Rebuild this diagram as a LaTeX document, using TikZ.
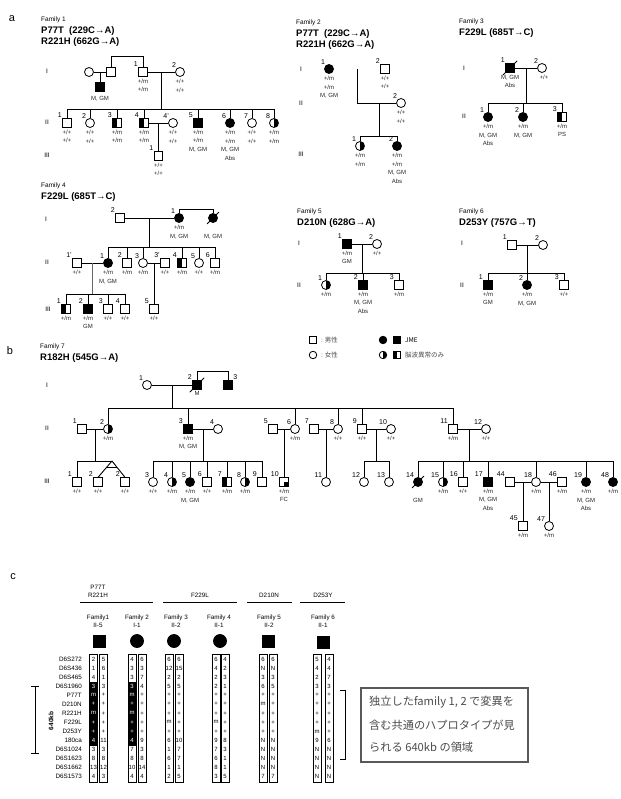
\documentclass[tikz,border=0pt]{standalone}
\usepackage{fontspec}
\setmainfont{Liberation Sans}
\newfontfamily\jpfont{Noto Sans CJK JP}
\usepackage{tikz}
\usetikzlibrary{positioning,calc}

\begin{document}
\begin{tikzpicture}[x=1pt,y=-1pt,node distance=2pt]
  \tikzstyle{male}=[draw,rectangle,minimum size=8.5pt,inner sep=0pt,line width=0.8pt,fill=white]
  \tikzstyle{female}=[draw,circle,minimum size=9pt,inner sep=0pt,line width=0.8pt,fill=white]
  \tikzstyle{aff}=[fill=black]
  \tikzstyle{halfc}=[path picture={\fill[black] (path picture bounding box.south) rectangle (path picture bounding box.north east);}]
  \tikzstyle{halfs}=[path picture={\fill[black] (path picture bounding box.south west) rectangle (path picture bounding box.north);}]
  \tikzstyle{fcq}=[path picture={\fill[black] (path picture bounding box.center) rectangle (path picture bounding box.south east);}]
  \tikzstyle{num}=[font=\fontsize{7}{7}\selectfont,inner sep=0.4pt]
  \tikzstyle{gt}=[font=\fontsize{6}{8.6}\selectfont,align=center,inner sep=0pt,text=black!85]
  \tikzstyle{gen}=[font=\fontsize{6.5}{7}\selectfont,inner sep=0pt]
  \tikzstyle{fam}=[anchor=west,inner sep=0pt,font=\fontsize{6.5}{7}\selectfont]
  \tikzstyle{mut}=[anchor=west,inner sep=0pt,font=\fontsize{9.5}{10}\selectfont\bfseries]
  \tikzstyle{sec}=[font=\fontsize{11}{11}\selectfont,inner sep=0pt]
  \tikzstyle{pline}=[line width=0.9pt]
  \tikzstyle{slash}=[line width=0.8pt]
  \tikzstyle{hap}=[font=\fontsize{6}{6}\selectfont,inner sep=0pt]
  \tikzstyle{mk}=[anchor=east,inner sep=0pt,font=\fontsize{6.3}{6}\selectfont]
  \tikzstyle{hdr}=[font=\fontsize{6.3}{7.8}\selectfont,align=center,inner sep=0pt]
  \tikzstyle{jp}=[anchor=west,inner sep=0pt,font=\jpfont\fontsize{6.5}{7}\selectfont]
  \tikzstyle{note}=[anchor=west,inner sep=0pt,text=black!70,font=\jpfont\fontsize{11.2}{11}\selectfont]

  \fill[white] (0,0) rectangle (620,799);
  \useasboundingbox (0,0) rectangle (620,799);

  % a: family 1
  \node[sec] (la) at (12,19) {a};
  \node[fam] (f1n) at (41,20) {Family 1};
  \node[mut] (f1u1) at (41,31) {P77T\ \ (229C→A)};
  \node[mut] (f1u2) at (41,42) {R221H (662G→A)};
  \node[gen] (f1g1) at (47,71) {I};
  \node[gen] (f1g2) at (47,122) {II};
  \node[gen] (f1g3) at (47,155) {III};
  \node[female] (f1a) at (89,72) {};
  \node[male] (f1b) at (111,72) {};
  \node[male,aff] (f1c) at (100,87) {};
  \node[gt,below=4pt of f1c] (f1ct) {M, GM};
  \node[male,label={[num]135:1}] (f1I1) at (143,72) {};
  \node[gt,below=of f1I1] (f1I1t) {+/m\\+/m};
  \node[female,label={[num]135:2}] (f1I2) at (180,72) {};
  \node[gt,below=of f1I2] (f1I2t) {+/+\\+/+};
  \node[male,label={[num]135:1}] (f1II1) at (67,123) {};
  \node[gt,below=of f1II1] (f1II1t) {+/+\\+/+};
  \node[female,label={[num]135:2}] (f1II2) at (90,123) {};
  \node[gt,below=of f1II2] (f1II2t) {+/+\\+/+};
  \node[male,halfs,label={[num]135:3}] (f1II3) at (117,123) {};
  \node[gt,below=of f1II3] (f1II3t) {+/m\\+/m};
  \node[male,halfs,label={[num]135:4}] (f1II4) at (144,123) {};
  \node[gt,below=of f1II4] (f1II4t) {+/m\\+/m};
  \node[female,label={[num]135:4'}] (f1II4p) at (173,123) {};
  \node[gt,below=of f1II4p] (f1II4pt) {+/+\\+/+};
  \node[male,aff,label={[num]135:5}] (f1II5) at (198,123) {};
  \node[gt,below=of f1II5] (f1II5t) {+/m\\+/m\\M, GM};
  \node[female,aff,label={[num]135:6}] (f1II6) at (230,123) {};
  \node[gt,below=of f1II6] (f1II6t) {+/m\\+/m\\M, GM\\Abs};
  \node[female,label={[num]135:7}] (f1II7) at (252,123) {};
  \node[gt,below=of f1II7] (f1II7t) {+/+\\+/+};
  \node[female,halfc,label={[num]135:8}] (f1II8) at (274,123) {};
  \node[gt,below=of f1II8] (f1II8t) {+/m\\+/m};
  \node[male,label={[num]135:1}] (f1III1) at (158.5,156) {};
  \node[gt,below=of f1III1] (f1III1t) {+/+\\+/+};
  \coordinate (f1t) at (0,56);
  \coordinate (f1s) at (0,109);
  \coordinate (f1ab) at ($(f1a)!0.5!(f1b)$);
  \coordinate (f1mI) at ($(f1I1)!0.5!(f1I2)$);
  \coordinate (f1mII) at ($(f1II4)!0.5!(f1II4p)$);
  \draw[pline] (f1a) -- (f1b);
  \draw[pline] (f1ab) -- (f1c);
  \draw[pline] (f1b.north) -- (f1b.north |- f1t) -- (f1I1.north |- f1t) -- (f1I1.north);
  \draw[pline] (f1I1) -- (f1I2);
  \draw[pline] (f1mI) -- (f1mI |- f1s);
  \draw[pline] (f1II1.north |- f1s) -- (f1II8.north |- f1s);
  \foreach \n in {f1II1,f1II2,f1II3,f1II4,f1II5,f1II6,f1II7,f1II8}
    \draw[pline] (\n) -- (\n |- f1s);
  \draw[pline] (f1II4) -- (f1II4p);
  \draw[pline] (f1mII) -- (f1III1);

  % family 2
  \node[fam] (f2n) at (296,23) {Family 2};
  \node[mut] (f2u1) at (296,34) {P77T\ \ (229C→A)};
  \node[mut] (f2u2) at (296,45) {R221H (662G→A)};
  \node[gen] (f2g1) at (301,69) {I};
  \node[gen] (f2g2) at (301,103) {II};
  \node[gen] (f2g3) at (301,154) {III};
  \node[female,aff,label={[num]135:1}] (f2I1) at (329,69) {};
  \node[gt,below=of f2I1] (f2I1t) {+/m\\+/m\\M, GM};
  \node[male,label={[num]135:2}] (f2I2) at (385,69) {};
  \node[gt,below=of f2I2] (f2I2t) {+/+\\+/+};
  \node[female,label={[num]135:2}] (f2II2) at (401,103) {};
  \node[gt,below=of f2II2] (f2II2t) {+/+\\+/+};
  \node[female,halfc,label={[num]135:1}] (f2III1) at (360,146) {};
  \node[gt,below=of f2III1] (f2III1t) {+/m\\+/m};
  \node[female,aff,label={[num]135:2}] (f2III2) at (397,146) {};
  \node[gt,below=of f2III2] (f2III2t) {+/m\\+/m\\M, GM\\Abs};
  \coordinate (f2mI) at ($(f2I1)!0.5!(f2I2)$);
  \coordinate (f2j) at (f2mI |- f2II2);
  \coordinate (f2mII) at ($(f2j)!0.5!(f2II2)$);
  \coordinate (f2s) at (0,136);
  \draw[line width=0.7pt,double,double distance=1.3pt] (f2I1) -- (f2I2);
  \draw[pline] (f2mI) -- (f2j) -- (f2II2);
  \draw[pline] (f2mII) -- (f2mII |- f2s);
  \draw[pline] (f2III1.north |- f2s) -- (f2III2.north |- f2s);
  \draw[pline] (f2III1) -- (f2III1 |- f2s);
  \draw[pline] (f2III2) -- (f2III2 |- f2s);

  % family 3
  \node[fam] (f3n) at (459,22) {Family 3};
  \node[mut] (f3u1) at (459,33) {F229L (685T→C)};
  \node[gen] (f3g1) at (464,68) {I};
  \node[gen] (f3g2) at (464,116) {II};
  \node[male,aff,label={[num]135:1}] (f3I1) at (510,68) {};
  \node[gt,below=of f3I1] (f3I1t) {M, GM\\Abs};
  \node[female,label={[num]135:2}] (f3I2) at (542,68) {};
  \node[gt,below=of f3I2,xshift=2pt] (f3I2t) {+/+};
  \node[female,aff,label={[num]135:1}] (f3II1) at (488,117) {};
  \node[gt,below=of f3II1] (f3II1t) {+/m\\M, GM\\Abs};
  \node[female,aff,label={[num]135:2}] (f3II2) at (523,117) {};
  \node[gt,below=of f3II2] (f3II2t) {+/m\\M, GM};
  \node[male,halfs,label={[num]135:3}] (f3II3) at (562,117) {};
  \node[gt,below=of f3II3] (f3II3t) {+/m\\PS};
  \coordinate (f3mI) at ($(f3I1)!0.5!(f3I2)$);
  \coordinate (f3s) at (0,103);
  \draw[slash] ([shift={(-2.5pt,-2.5pt)}]f3I1.south west) -- ([shift={(2.5pt,2.5pt)}]f3I1.north east);
  \draw[pline] (f3I1) -- (f3I2);
  \draw[pline] (f3mI) -- (f3mI |- f3s);
  \draw[pline] (f3II1.north |- f3s) -- (f3II3.north |- f3s);
  \foreach \n in {f3II1,f3II2,f3II3}
    \draw[pline] (\n) -- (\n |- f3s);

  % family 4
  \node[fam] (f4n) at (41,186) {Family 4};
  \node[mut] (f4u1) at (41,197) {F229L (685T→C)};
  \node[gen] (f4g1) at (46,219) {I};
  \node[gen] (f4g2) at (47,262) {II};
  \node[gen] (f4g3) at (48,309) {III};
  \node[male,label={[num]135:2}] (f4I2) at (120,218) {};
  \node[female,aff,label={[num]135:1}] (f4I1) at (179,218) {};
  \node[gt,below=of f4I1] (f4I1t) {+/m\\M, GM};
  \node[female,aff] (f4I3) at (213,218) {};
  \node[gt,below=11pt of f4I3] (f4I3t) {M, GM};
  \node[male,label={[num]135:1'}] (f4II1p) at (77,263) {};
  \node[gt,below=of f4II1p] (f4II1pt) {+/+};
  \node[female,aff,label={[num]135:1}] (f4II1) at (108,263) {};
  \node[gt,below=of f4II1] (f4II1t) {+/m\\M, GM};
  \node[male,label={[num]135:2}] (f4II2) at (127,263) {};
  \node[gt,below=of f4II2] (f4II2t) {+/m};
  \node[female,label={[num]135:3}] (f4II3) at (143,263) {};
  \node[gt,below=of f4II3] (f4II3t) {+/m};
  \node[male,label={[num]135:3'}] (f4II3p) at (165,263) {};
  \node[gt,below=of f4II3p] (f4II3pt) {+/+};
  \node[male,halfs,label={[num]135:4}] (f4II4) at (182,263) {};
  \node[gt,below=of f4II4] (f4II4t) {+/m};
  \node[female,label={[num]135:5}] (f4II5) at (199,263) {};
  \node[gt,below=of f4II5] (f4II5t) {+/+};
  \node[male,label={[num]135:6}] (f4II6) at (215,263) {};
  \node[gt,below=of f4II6] (f4II6t) {+/m};
  \node[male,halfs,label={[num]135:1}] (f4III1) at (66,309) {};
  \node[gt,below=of f4III1] (f4III1t) {+/m};
  \node[male,aff,label={[num]135:2}] (f4III2) at (88,309) {};
  \node[gt,below=of f4III2] (f4III2t) {+/m\\GM};
  \node[male,label={[num]135:3}] (f4III3) at (108,309) {};
  \node[gt,below=of f4III3] (f4III3t) {+/+};
  \node[male,label={[num]135:4}] (f4III4) at (125,309) {};
  \node[gt,below=of f4III4] (f4III4t) {+/+};
  \node[male,label={[num]135:5}] (f4III5) at (154,309) {};
  \node[gt,below=of f4III5] (f4III5t) {+/+};
  \coordinate (f4t) at (0,209);
  \coordinate (f4s) at (0,247);
  \coordinate (f4s3) at (0,294);
  \coordinate (f4mI) at ($(f4I2)!0.5!(f4I1)$);
  \coordinate (f4m1) at ($(f4II1p)!0.5!(f4II1)$);
  \coordinate (f4m3) at ($(f4II3)!0.5!(f4II3p)$);
  \draw[slash] ([shift={(-2.5pt,-2.5pt)}]f4I3.south west) -- ([shift={(2.5pt,2.5pt)}]f4I3.north east);
  \draw[pline] (f4I1.north) -- (f4I1.north |- f4t) -- (f4I3.north |- f4t) -- (f4I3.north);
  \draw[pline] (f4I2) -- (f4I1);
  \draw[pline] (f4mI) -- (f4mI |- f4s);
  \draw[pline] (f4II1.north |- f4s) -- (f4II6.north |- f4s);
  \foreach \n in {f4II1,f4II2,f4II3,f4II4,f4II5,f4II6}
    \draw[pline] (\n) -- (\n |- f4s);
  \draw[pline] (f4II1p) -- (f4II1);
  \draw[pline] (f4II3) -- (f4II3p);
  \draw[pline,black!60] (f4m1) -- (f4m1 |- f4s3);
  \draw[pline] (f4III1.north |- f4s3) -- (f4III4.north |- f4s3);
  \foreach \n in {f4III1,f4III2,f4III3,f4III4}
    \draw[pline] (\n) -- (\n |- f4s3);
  \draw[pline] (f4m3) -- (f4III5);

  % family 5
  \node[fam] (f5n) at (297,212) {Family 5};
  \node[mut] (f5u1) at (297,223) {D210N (628G→A)};
  \node[gen] (f5g1) at (299,243) {I};
  \node[gen] (f5g2) at (299,285) {II};
  \node[male,aff,label={[num]135:1}] (f5I1) at (347,244) {};
  \node[gt,below=of f5I1] (f5I1t) {+/m\\GM};
  \node[female,label={[num]135:2}] (f5I2) at (377,244) {};
  \node[gt,below=of f5I2] (f5I2t) {+/+};
  \node[female,halfc,label={[num]135:1}] (f5II1) at (326,285) {};
  \node[gt,below=of f5II1] (f5II1t) {+/m};
  \node[male,aff,label={[num]135:2}] (f5II2) at (363,285) {};
  \node[gt,below=of f5II2] (f5II2t) {+/m\\M, GM\\Abs};
  \node[male,label={[num]135:3}] (f5II3) at (399,285) {};
  \node[gt,below=of f5II3] (f5II3t) {+/m};
  \coordinate (f5mI) at ($(f5I1)!0.5!(f5I2)$);
  \coordinate (f5s) at (0,273);
  \draw[pline] (f5I1) -- (f5I2);
  \draw[pline] (f5mI) -- (f5mI |- f5s);
  \draw[pline] (f5II1.north |- f5s) -- (f5II3.north |- f5s);
  \foreach \n in {f5II1,f5II2,f5II3}
    \draw[pline] (\n) -- (\n |- f5s);

  % family 6
  \node[fam] (f6n) at (459,212) {Family 6};
  \node[mut] (f6u1) at (459,223) {D253Y (757G→T)};
  \node[gen] (f6g1) at (462,243) {I};
  \node[gen] (f6g2) at (462,285) {II};
  \node[male,label={[num]135:1}] (f6I1) at (512,245) {};
  \node[female,label={[num]135:2}] (f6I2) at (543,245) {};
  \node[male,aff,label={[num]135:1}] (f6II1) at (488,285) {};
  \node[gt,below=of f6II1] (f6II1t) {+/m\\GM};
  \node[female,aff,label={[num]135:2}] (f6II2) at (527,285) {};
  \node[gt,below=of f6II2] (f6II2t) {+/m\\M, GM};
  \node[male,label={[num]135:3}] (f6II3) at (564,285) {};
  \node[gt,below=of f6II3] (f6II3t) {+/+};
  \coordinate (f6mI) at ($(f6I1)!0.5!(f6I2)$);
  \coordinate (f6s) at (0,273);
  \draw[pline] (f6I1) -- (f6I2);
  \draw[pline] (f6mI) -- (f6mI |- f6s);
  \draw[pline] (f6II1.north |- f6s) -- (f6II3.north |- f6s);
  \foreach \n in {f6II1,f6II2,f6II3}
    \draw[pline] (\n) -- (\n |- f6s);

  % legend
  \node[male,minimum size=7.5pt] (lgm) at (313,340) {};
  \node[jp,text=black!70] (lgmt) at (321,340) {: 男性};
  \node[female,minimum size=7.5pt] (lgf) at (313,355) {};
  \node[jp,text=black!70] (lgft) at (321,355) {: 女性};
  \node[female,aff,minimum size=7.5pt] (lga1) at (383,340) {};
  \node[male,aff,minimum size=7.5pt] (lga2) at (397,340) {};
  \node[jp] (lgat) at (405,340) {JME};
  \node[female,halfc,minimum size=7.5pt] (lgh1) at (383,355) {};
  \node[male,halfs,minimum size=7.5pt] (lgh2) at (397,355) {};
  \node[jp,text=black!70] (lght) at (405,355) {脳波異常のみ};

  % b: family 7
  \node[sec] (lb) at (10,351) {b};
  \node[fam] (f7n) at (40,347) {Family 7};
  \node[mut] (f7u1) at (40,358) {R182H (545G→A)};
  \node[gen] (f7g1) at (47,385) {I};
  \node[gen] (f7g2) at (47,428) {II};
  \node[gen] (f7g3) at (47,481) {III};
  \node[female,label={[num]135:1}] (f7I1) at (147,385) {};
  \node[male,aff,label={[num]135:2}] (f7I2) at (197,385) {};
  \node[gt,below=of f7I2] (f7I2t) {M};
  \node[male,aff,label={[num]45:3}] (f7I3) at (228,385) {};
  \node[male,label={[num]135:1}] (f7II1) at (82,429) {};
  \node[female,halfc,label={[num]135:2}] (f7II2) at (108,429) {};
  \node[gt,below=of f7II2] (f7II2t) {+/m};
  \node[male,aff,label={[num]135:3}] (f7II3) at (188,429) {};
  \node[gt,below=of f7II3] (f7II3t) {+/m\\M, GM};
  \node[female,label={[num]135:4}] (f7II4) at (218,429) {};
  \node[male,label={[num]135:5}] (f7II5) at (273,429) {};
  \node[female,label={[num]135:6}] (f7II6) at (295,429) {};
  \node[gt,below=of f7II6] (f7II6t) {+/m};
  \node[male,label={[num]135:7}] (f7II7) at (314,429) {};
  \node[female,label={[num]135:8}] (f7II8) at (338,429) {};
  \node[gt,below=of f7II8] (f7II8t) {+/+};
  \node[male,label={[num]135:9}] (f7II9) at (362,429) {};
  \node[gt,below=of f7II9] (f7II9t) {+/+};
  \node[female,label={[num]135:10}] (f7II10) at (391,429) {};
  \node[gt,below=of f7II10] (f7II10t) {+/+};
  \node[male,label={[num]135:11}] (f7II11) at (453,429) {};
  \node[gt,below=of f7II11] (f7II11t) {+/m};
  \node[female,label={[num]135:12}] (f7II12) at (486,429) {};
  \node[gt,below=of f7II12] (f7II12t) {+/+};
  \node[male,label={[num]135:1}] (f7III1) at (77,482) {};
  \node[gt,below=of f7III1] (f7III1t) {+/+};
  \node[male,label={[num]135:2}] (f7III2) at (98,482) {};
  \node[gt,below=of f7III2] (f7III2t) {+/+};
  \node[male,label={[num]135:2}] (f7III2b) at (125,482) {};
  \node[gt,below=of f7III2b] (f7III2bt) {+/+};
  \node[female,label={[num]135:3}] (f7III3) at (153,482) {};
  \node[gt,below=of f7III3] (f7III3t) {+/+};
  \node[female,halfc,label={[num]135:4}] (f7III4) at (172,482) {};
  \node[gt,below=of f7III4] (f7III4t) {+/m};
  \node[female,aff,label={[num]135:5}] (f7III5) at (190,482) {};
  \node[gt,below=of f7III5] (f7III5t) {+/m\\M, GM};
  \node[male,label={[num]135:6}] (f7III6) at (207,482) {};
  \node[gt,below=of f7III6] (f7III6t) {+/+};
  \node[male,halfs,label={[num]135:7}] (f7III7) at (227,482) {};
  \node[gt,below=of f7III7] (f7III7t) {+/m};
  \node[female,halfc,label={[num]135:8}] (f7III8) at (245,482) {};
  \node[gt,below=of f7III8] (f7III8t) {+/m};
  \node[male,label={[num]135:9}] (f7III9) at (262,482) {};
  \node[male,fcq,label={[num]135:10}] (f7III10) at (284,482) {};
  \node[gt,below=of f7III10] (f7III10t) {+/m\\FC};
  \node[female,label={[num]135:11}] (f7III11) at (326,482) {};
  \node[female,label={[num]135:12}] (f7III12) at (364,482) {};
  \node[female,label={[num]135:13}] (f7III13) at (389,482) {};
  \node[female,aff,label={[num]135:14}] (f7III14) at (418,482) {};
  \node[gt,below=11pt of f7III14] (f7III14t) {GM};
  \node[female,halfc,label={[num]135:15}] (f7III15) at (443,482) {};
  \node[gt,below=of f7III15] (f7III15t) {+/m};
  \node[male,label={[num]135:16}] (f7III16) at (463,482) {};
  \node[gt,below=of f7III16] (f7III16t) {+/+};
  \node[male,aff,label={[num]135:17}] (f7III17) at (488,482) {};
  \node[gt,below=of f7III17] (f7III17t) {+/m\\M, GM\\Abs};
  \node[male] (f7III44) at (510,482) {};
  \node[num,above left=0pt of f7III44.north west] (f7III44n) {44};
  \node[female,label={[num]135:18}] (f7III18) at (536,482) {};
  \node[gt,below=of f7III18] (f7III18t) {+/m};
  \node[male,label={[num]135:46}] (f7III46) at (562,482) {};
  \node[gt,below=of f7III46] (f7III46t) {+/m};
  \node[female,aff,label={[num]135:19}] (f7III19) at (586,482) {};
  \node[gt,below=of f7III19] (f7III19t) {+/m\\M, GM\\Abs};
  \node[female,aff,label={[num]135:48}] (f7III48) at (613,482) {};
  \node[gt,below=of f7III48] (f7III48t) {+/m};
  \node[male,label={[num]135:45}] (f7IV45) at (523,526) {};
  \node[gt,below=of f7IV45] (f7IV45t) {+/m};
  \node[female,label={[num]135:47}] (f7IV47) at (549,526) {};
  \node[gt,below=of f7IV47] (f7IV47t) {+/m};
  \coordinate (f7t) at (0,371);
  \coordinate (f7s) at (0,408);
  \coordinate (f7s3) at (0,461);
  \coordinate (f7tw) at (112,461);
  \coordinate (f7mI) at ($(f7I1)!0.5!(f7I2)$);
  \coordinate (f7m1) at ($(f7II1)!0.5!(f7II2)$);
  \coordinate (f7m3) at ($(f7II3)!0.5!(f7II4)$);
  \coordinate (f7m5) at ($(f7II5)!0.5!(f7II6)$);
  \coordinate (f7m7) at ($(f7II7)!0.5!(f7II8)$);
  \coordinate (f7m9) at ($(f7II9)!0.5!(f7II10)$);
  \coordinate (f7m11) at ($(f7II11)!0.5!(f7II12)$);
  \coordinate (f7m44) at ($(f7III44)!0.5!(f7III18)$);
  \coordinate (f7m46) at ($(f7III18)!0.5!(f7III46)$);
  \draw[slash] ([shift={(-2.5pt,-2.5pt)}]f7I2.south west) -- ([shift={(2.5pt,2.5pt)}]f7I2.north east);
  \draw[slash] ([shift={(-2.5pt,-2.5pt)}]f7III14.south west) -- ([shift={(2.5pt,2.5pt)}]f7III14.north east);
  \draw[pline] (f7I2.north) -- (f7I2.north |- f7t) -- (f7I3.north |- f7t) -- (f7I3.north);
  \draw[pline] (f7I1) -- (f7I2);
  \draw[pline] (f7mI) -- (f7mI |- f7s);
  \draw[pline] (f7II2.north |- f7s) -- (f7II11.north |- f7s);
  \foreach \n in {f7II2,f7II3,f7II6,f7II8,f7II9,f7II11}
    \draw[pline] (\n) -- (\n |- f7s);
  \foreach \a/\b in {f7II1/f7II2,f7II3/f7II4,f7II5/f7II6,f7II7/f7II8,f7II9/f7II10,f7II11/f7II12,f7III44/f7III18,f7III18/f7III46}
    \draw[pline] (\a) -- (\b);
  \foreach \m in {f7m1,f7m3,f7m9,f7m11}
    \draw[pline] (\m) -- (\m |- f7s3);
  \draw[pline] (f7III1.north |- f7s3) -- (f7tw);
  \draw[pline] (f7III1) -- (f7III1 |- f7s3);
  \draw[pline] (f7tw) -- (f7III2.north);
  \draw[pline] (f7tw) -- (f7III2b.north);
  \draw[pline] ($(f7tw)!0.4!(f7III2.north)$) -- ($(f7tw)!0.4!(f7III2b.north)$);
  \draw[pline] (f7III3.north |- f7s3) -- (f7III9.north |- f7s3);
  \foreach \n in {f7III3,f7III4,f7III5,f7III6,f7III7,f7III8,f7III9}
    \draw[pline] (\n) -- (\n |- f7s3);
  \draw[pline] (f7m5) -- (f7m5 |- f7III10.north);
  \draw[pline] (f7m7) -- (f7m7 |- f7III11.north);
  \draw[pline] (f7III12.north |- f7s3) -- (f7III13.north |- f7s3);
  \foreach \n in {f7III12,f7III13}
    \draw[pline] (\n) -- (\n |- f7s3);
  \draw[pline] (f7III14.north |- f7s3) -- (f7III48.north |- f7s3);
  \foreach \n in {f7III14,f7III15,f7III16,f7III17,f7III18,f7III19,f7III48}
    \draw[pline] (\n) -- (\n |- f7s3);
  \draw[pline] (f7m44) -- (f7m44 |- f7IV45.north);
  \draw[pline] (f7m46) -- (f7m46 |- f7IV47.north);

  % c: haplotypes
  \node[sec] (lc) at (13,577) {c};
  \node[hdr] (hg1) at (98,591) {P77T\\R221H};
  \node[hdr] (hg2) at (200,595) {F229L};
  \node[hdr] (hg3) at (269,595) {D210N};
  \node[hdr] (hg4) at (323,595) {D253Y};
  \draw[line width=0.6pt] (80,602) -- (153,602) (163,602) -- (237,602) (247,602) -- (292,602) (300,602) -- (345,602);
  \node[hdr] (hf1) at (98,621) {Family1\\II-5};
  \node[hdr] (hf2) at (137,621) {Family 2\\I-1};
  \node[hdr] (hf3) at (176,621) {Family 3\\II-2};
  \node[hdr] (hf4) at (219,621) {Family 4\\II-1};
  \node[hdr] (hf5) at (269,621) {Family 5\\II-2};
  \node[hdr] (hf6) at (323,621) {Family 6\\II-1};
  \node[male,aff,minimum size=12pt] (hs1) at (99,641) {};
  \node[female,aff,minimum size=13pt] (hs2) at (137,641) {};
  \node[female,aff,minimum size=13pt] (hs3) at (174,641) {};
  \node[female,aff,minimum size=13pt] (hs4) at (220,641) {};
  \node[male,aff,minimum size=12pt] (hs5) at (268,641) {};
  \node[male,aff,minimum size=12pt] (hs6) at (323,642) {};
  \foreach \m [count=\r from 0] in {D6S272,D6S436,D6S465,D6S1960,P77T,D210N,R221H,F229L,D253Y,180ca,D6S1024,D6S1623,D6S1662,D6S1573}
    \node[mk] (mk\r) at (82,659+9.05*\r) {\m};
  \foreach \x/\dk/\vals [count=\c] in {
      93.5/1/{2,1,4,3,m,+,m,+,+,4,3,8,13,4},
      103.5/0/{5,6,1,3,+,+,+,+,+,11,3,8,12,3},
      132/1/{4,3,3,3,m,+,m,+,+,4,7,8,10,4},
      142/0/{6,3,7,4,+,+,+,+,+,9,3,8,14,4},
      169/0/{6,12,2,5,+,+,+,m,+,6,1,6,1,2},
      179/0/{6,15,2,5,+,+,+,+,+,10,7,7,1,5},
      216/0/{6,4,2,2,+,+,+,m,+,9,7,6,8,3},
      225/0/{4,2,3,1,+,+,+,+,+,8,3,1,1,5},
      263/0/{6,N,3,6,+,m,+,+,+,N,N,N,N,7},
      273/0/{6,N,3,5,+,+,+,+,+,N,N,N,N,7},
      317/0/{5,4,2,3,+,+,+,+,m,9,N,N,N,N},
      329/0/{4,4,7,3,+,+,+,+,+,6,N,N,N,N}}{
    \draw[line width=0.5pt] (\x-3.8,654) rectangle (\x+3.8,782);
    \ifnum\dk=1 \fill (\x-3.8,681.5) rectangle (\x+3.8,745.5); \fi
    \foreach \v [count=\r from 0] in \vals {
      \pgfmathtruncatemacro\wt{\dk*(\r>2)*(\r<10)}
      \ifnum\wt=1 \def\tc{white}\else\def\tc{black}\fi
      \node[hap,text=\tc] (h\c r\r) at (\x,659+9.05*\r) {\v};
    }
  }
  \draw[line width=0.6pt] (31,686) -- (39,686) (35,686) -- (35,753) (31,753) -- (39,753);
  \node[rotate=90,inner sep=0pt,font=\fontsize{6.5}{7}\selectfont\bfseries] (kb) at (51,721) {640kb};
  \draw[line width=0.8pt] (340,690) -- (345,690) -- (345,759) -- (340,759);
  \node[draw=black!65,line width=1.3pt,minimum width=167pt,minimum height=74pt,inner sep=0pt] (box) at (444.5,725) {};
  \node[note] (nt1) at (369,702) {独立したfamily 1, 2 で変異を};
  \node[note] (nt2) at (369,725) {含む共通のハプロタイプが見};
  \node[note] (nt3) at (369,747) {られる 640kb の領域};
\end{tikzpicture}
\end{document}
